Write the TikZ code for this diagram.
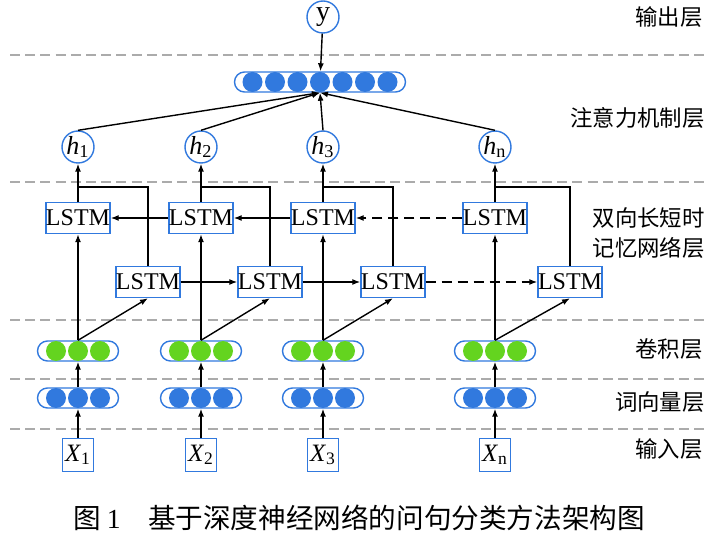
\documentclass[tikz,border=0pt]{standalone}
\usepackage{fontspec}
\setmainfont{Liberation Serif}
\newfontfamily\cjk{Noto Sans CJK SC}
\usetikzlibrary{arrows.meta}
\definecolor{nnblue}{HTML}{3179DE}
\definecolor{nngreen}{HTML}{64D41F}

\begin{document}
\begin{tikzpicture}[x=0.5pt,y=-0.5pt,>={Latex[length=4pt,width=3pt]}]

\tikzset{
    neuron/.style={circle, draw=nnblue, line width=0.7pt, fill=white, minimum size=16pt, inner sep=0pt, font=\fontsize{13}{13}\selectfont},
    lstm/.style={draw=nnblue, line width=0.7pt, fill=white, minimum width=31.5pt, minimum height=15.5pt, inner sep=0pt, font=\fontsize{12}{12}\selectfont},
    inbox/.style={draw=nnblue, line width=0.7pt, fill=white, minimum width=15.5pt, minimum height=16.5pt, inner sep=0pt, font=\fontsize{12.5}{12.5}\selectfont},
    vec/.style={draw=nnblue, line width=0.7pt, fill=white, rounded corners=5pt, minimum height=10pt, inner sep=0pt},
    layername/.style={anchor=east, font=\cjk\fontsize{11.2}{15}\selectfont, align=left, inner sep=0pt},
    gapline/.style={draw=black!33, line width=0.8pt, dash pattern=on 5pt off 2.6pt},
    link/.style={->, line width=0.7pt}
}
\useasboundingbox (0,0) rectangle (724,545);

\foreach \ly in {55,182,320,379,429}
    \draw[gapline] (10,\ly) -- (706,\ly);

\node[neuron, font=\fontsize{14}{14}\selectfont] (y) at (323,17) {y};
\node[vec, minimum width=85.5pt] (att) at (320,82) {};
\foreach \k in {-3,...,3}
    \fill[nnblue] (320+\k*22.5,82) circle[radius=5pt];
\draw[link] (y) -- (att);

\foreach \i/\cx/\bx in {1/78/148, 2/201/270, 3/323/393, n/495/570} {
    \node[inbox] (x\i) at (\cx,455) {\textit{X}\textsubscript{\i}};
    \node[vec, minimum width=40.5pt] (wv\i) at (\cx,398) {};
    \node[vec, minimum width=40.5pt] (cv\i) at (\cx,351) {};
    \foreach \k in {-1,0,1} {
        \fill[nnblue] (\cx+\k*22,398) circle[radius=5pt];
        \fill[nngreen] (\cx+\k*22,351) circle[radius=5pt];
    }
    \node[lstm] (t\i) at (\cx,218) {LSTM};
    \node[lstm] (b\i) at (\bx,282) {LSTM};
    \node[neuron] (h\i) at (\cx,147) {\textit{h}\textsubscript{\i}};
    \coordinate (j\i) at (\cx,187);
    \draw[link] (x\i) -- (wv\i);
    \draw[link] (wv\i) -- (cv\i);
    \draw[link] (cv\i.north) -- (t\i.south);
    \draw[link] (cv\i.north) -- (b\i.south);
    \draw[link] (t\i) -- (h\i);
    \draw[line width=0.7pt] (b\i.north) |- (j\i);
    \draw[link] (h\i.north) -- (att.south);
}

\draw[link] (t2) -- (t1);
\draw[link] (t3) -- (t2);
\draw[link, dash pattern=on 5pt off 3pt] (tn) -- (t3);
\draw[link] (b1) -- (b2);
\draw[link] (b2) -- (b3);
\draw[link, dash pattern=on 5pt off 3pt] (b3) -- (bn);

\node[layername] (l1) at (703,17) {输出层};
\node[layername] (l2) at (705,118) {注意力机制层};
\node[layername] (l3) at (705,233) {双向长短时\\记忆网络层};
\node[layername] (l4) at (703,349) {卷积层};
\node[layername] (l5) at (705,402) {词向量层};
\node[layername] (l6) at (703,449) {输入层};

\node[font=\cjk\fontsize{13.8}{14}\selectfont] (cap) at (359,518) {图 {\rmfamily 1}\hspace{1em}基于深度神经网络的问句分类方法架构图};
\end{tikzpicture}
\end{document}
